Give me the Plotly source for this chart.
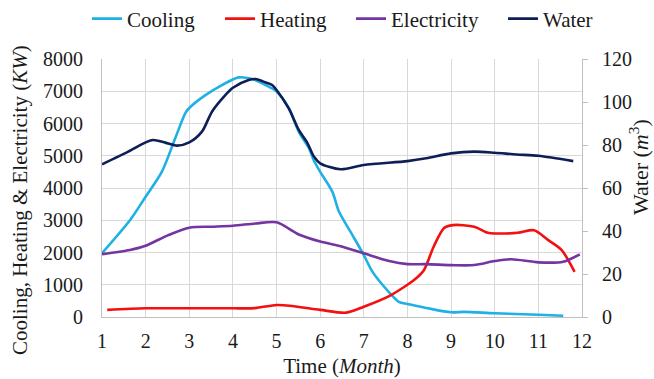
import plotly.graph_objects as go

# ---- data ----
months_cooling = [1, 1.64, 2, 2.37, 2.68, 2.91, 3, 3.37, 3.75, 4.13, 4.44, 4.75, 5, 5.28, 5.51,
                  5.74, 5.85, 6, 6.28, 6.43, 6.74, 7, 7.2, 7.57, 7.8, 8, 8.43, 9, 9.3, 10, 11, 11.57]
cooling = [1980, 3000, 3730, 4500, 5550, 6320, 6480, 6880, 7190, 7430, 7380, 7190, 6990, 6480, 5740,
           5240, 4870, 4500, 3880, 3270, 2540, 1920, 1400, 780, 470, 400, 280, 145, 160, 115, 70, 40]

months_heating = [1.12, 2, 3, 4, 4.5, 5, 5.3, 6, 6.6, 7, 7.58, 8, 8.2, 8.38, 8.6, 8.84, 9.04,
                  9.53, 9.84, 10.03, 10.53, 10.9, 11.22, 11.53, 11.83]
heating = [220, 270, 270, 270, 275, 370, 350, 220, 135, 320, 650, 1000, 1200, 1460, 2180, 2760, 2850,
           2800, 2610, 2590, 2610, 2690, 2390, 2080, 1400]

months_elec = [1, 1.64, 2, 2.52, 3, 3.52, 4, 4.52, 5, 5.51, 6, 6.51, 7, 7.58, 8, 8.43, 9, 9.53,
               10, 10.38, 11, 11.57, 11.95]
electricity = [1950, 2080, 2210, 2540, 2770, 2800, 2830, 2900, 2935, 2560, 2340, 2180, 1975, 1735,
               1640, 1640, 1610, 1610, 1735, 1790, 1695, 1715, 1945]

months_water = [1, 1.6, 2, 2.17, 2.45, 2.72, 3, 3.29, 3.52, 3.79, 4, 4.36, 4.52, 4.75, 4.9, 5,
                5.28, 5.51, 5.71, 5.86, 6, 6.47, 7, 8, 8.43, 9, 9.53, 10, 10.5, 11, 11.8]
water = [71.0, 76.9, 81.2, 82.3, 81.1, 79.7, 81.2, 86.2, 95.5, 102.4, 106.6, 110.2, 110.7, 109.1,
         107.9, 105.6, 97.0, 87.0, 80.8, 74.5, 71.5, 68.7, 70.7, 72.5, 73.8, 76.1, 76.9, 76.4, 75.6,
         75.0, 72.5]

x_ticks = list(range(1, 13))
left_ticks = list(range(0, 8001, 1000))
right_ticks = list(range(0, 121, 20))

FONT = "Liberation Serif"
TXT = "#1a1a1a"
TICKFONT = dict(family=FONT, size=20, color=TXT)
TITLEFONT = dict(family=FONT, size=21, color=TXT)

W, H = 654, 379

fig = go.Figure()
fig.add_trace(go.Scatter(x=months_cooling, y=cooling, name="Cooling", mode="lines", legend="legend",
                         line=dict(color="#1fb0e6", width=2.6, shape="spline", smoothing=0.8)))
fig.add_trace(go.Scatter(x=months_heating, y=heating, name="Heating", mode="lines", legend="legend2",
                         line=dict(color="#f21010", width=2.6, shape="spline", smoothing=0.8)))
fig.add_trace(go.Scatter(x=months_elec, y=electricity, name="Electricity", mode="lines", legend="legend3",
                         line=dict(color="#7434a2", width=2.6, shape="spline", smoothing=0.8)))
fig.add_trace(go.Scatter(x=months_water, y=water, name="Water", mode="lines", yaxis="y2", legend="legend4",
                         line=dict(color="#0e1f58", width=2.6, shape="spline", smoothing=0.8)))


def leg(px):
    return dict(orientation="h", xref="container", x=px / W, xanchor="left",
                yref="container", y=1 - 19 / H, yanchor="middle",
                font=dict(size=21, family=FONT, color=TXT), bgcolor="rgba(0,0,0,0)")


fig.update_layout(
    width=W, height=H,
    margin=dict(l=102, r=72, t=59, b=62, autoexpand=False),
    paper_bgcolor="white", plot_bgcolor="white",
    font=dict(family=FONT, size=20, color=TXT),
    showlegend=True,
    legend=leg(87), legend2=leg(220), legend3=leg(351), legend4=leg(503),
    xaxis=dict(range=[1, 12], tickmode="array", tickvals=x_ticks, ticktext=[str(v) for v in x_ticks],
               showgrid=True, gridcolor="#d9d9d9", gridwidth=1,
               showline=True, linecolor="#bfbfbf", linewidth=1, ticks="",
               zeroline=False, tickfont=TICKFONT, automargin=False, ticklabelstandoff=6,
               title=dict(text="Time (<i>Month</i>)", font=TITLEFONT, standoff=7)),
    yaxis=dict(range=[0, 8000], tickmode="array", tickvals=left_ticks,
               showgrid=True, gridcolor="#d9d9d9", gridwidth=1,
               showline=True, linecolor="#bfbfbf", linewidth=1, ticks="",
               zeroline=False, tickfont=TICKFONT, automargin=False, ticklabelstandoff=14),
    yaxis2=dict(range=[0, 120], tickmode="array", tickvals=right_ticks, overlaying="y", side="right",
                showgrid=False, showline=True, linecolor="#bfbfbf", linewidth=1,
                ticks="outside", ticklen=5, tickcolor="#bfbfbf", zeroline=False,
                tickfont=TICKFONT, automargin=False, ticklabelstandoff=10),
    annotations=[
        dict(text="Cooling, Heating & Electricity (<i>KW</i>)", textangle=-90,
             xref="paper", yref="paper", x=-(102 - 20) / (W - 174), y=(317 - 200) / 258,
             xanchor="center", yanchor="middle", showarrow=False, font=TITLEFONT),
        dict(text="Water (<i>m</i><sup>3</sup>)", textangle=-90,
             xref="paper", yref="paper", x=1 + (639 - 582) / (W - 174), y=(317 - 167) / 258,
             xanchor="center", yanchor="middle", showarrow=False,
             font=dict(family=FONT, size=22, color=TXT)),
    ],
)

fig.write_html("out.html", config={"displayModeBar": False},
               post_script="document.body.style.margin='0';document.body.style.overflow='hidden';")
